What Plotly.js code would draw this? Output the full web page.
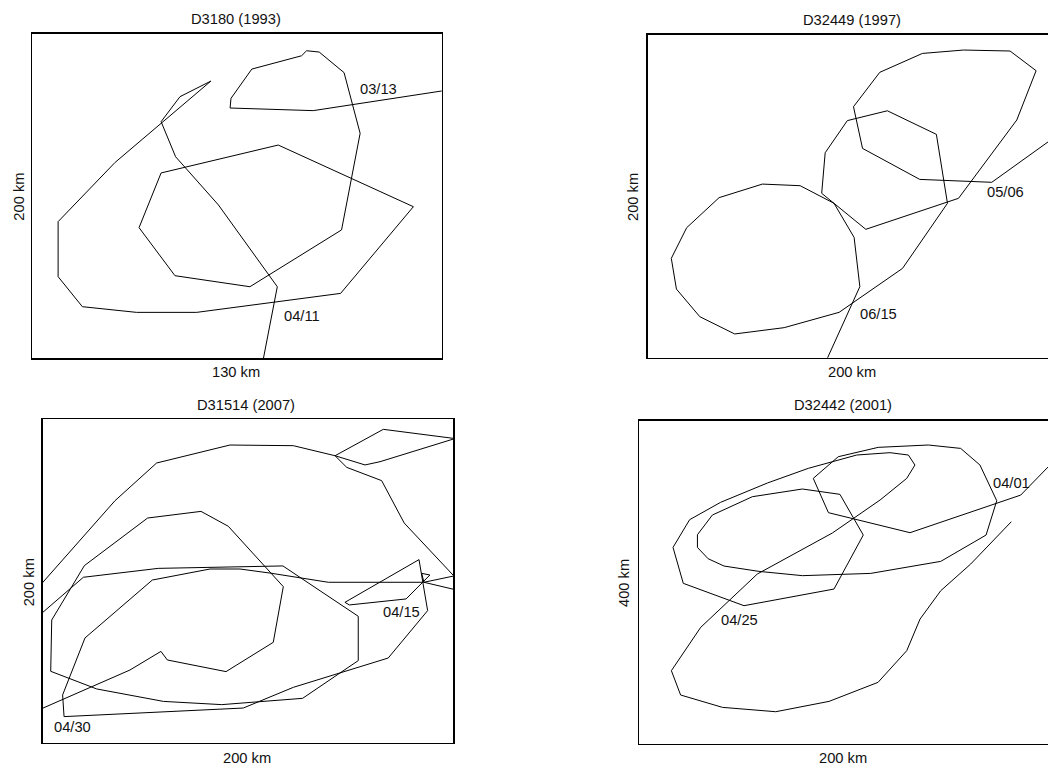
<!DOCTYPE html>
<html>
<head>
<meta charset="utf-8">
<script src="https://cdn.plot.ly/plotly-3.0.1.min.js"></script>
<style>html,body{margin:0;padding:0;background:#fff;overflow:hidden}#chart{width:1048px;height:767px}</style>
</head>
<body>
<div id="chart"></div>
<script>
// ---- data (km) ----
const titles = ["D3180 (1993)", "D32449 (1997)", "D31514 (2007)", "D32442 (2001)"];
const xLabels = ["130 km", "200 km", "200 km", "200 km"];
const yLabels = ["200 km", "200 km", "200 km", "400 km"];

const p1x = [133.7, 89.2, 62.8, 63.1, 69.7, 85.5, 87.1, 91.1, 99.0, 104.1, 98.2, 69.1, 45.3, 33.9, 40.9, 78.1, 121.0, 97.9, 52.2, 33.1, 15.9, 8.2, 8.2, 26.3, 56.7, 46.9, 40.9, 45.5, 59.1, 77.8, 73.4, 72.8];
const p1y = [165.8, 152.6, 154.2, 160.2, 178.2, 186.4, 189.5, 188.7, 176.0, 138.6, 79.1, 44.1, 50.9, 80.5, 114.2, 131.4, 93.4, 40.0, 28.3, 28.3, 31.8, 50.3, 84.2, 120.7, 170.8, 161.2, 145.8, 124.2, 94.5, 44.1, 0, -5.1];

const p2x = [203.0, 167.7, 132.6, 104.7, 100.3, 113.1, 133.9, 153.9, 176.6, 189.3, 179.9, 151.5, 106.3, 84.8, 86.5, 97.3, 116.8, 140.7, 146.1, 124.2, 93.3, 66.5, 42.4, 25.4, 14.0, 11.5, 19.0, 34.8, 55.9, 74.3, 90.8, 100.6, 103.4, 89.2, 86.8];
const p2y = [140.8, 108.6, 110.4, 129.6, 155.4, 176.7, 188.4, 190.5, 189.9, 177.7, 147.2, 98.7, 79.5, 101.8, 126.9, 146.8, 152.9, 138.3, 95.6, 55.3, 28.1, 18.6, 14.7, 25.4, 42.5, 61.5, 80.5, 99.1, 107.5, 106.5, 95.6, 74.5, 44.0, 3.7, -2.5];

const p3x = [-11.0, 42.5, 57.6, 60.7, 89.3, 112.3, 117.2, 90.4, 77.1, 51.1, 20.3, 4.4, 3.9, 26.3, 58.8, 87.2, 126.6, 153.7, 153.7, 117.0, 56.3, 19.8, -11.0, -11.0, 35.2, 55.5, 91.2, 122.1, 142.4, 165.9, 200.8, 164.3, 157.0, 142.4, 148.1, 165.1, 176.1, 200.3, 185.7, 139.1, 110.7, 96.1, 81.5, 53.4, 20.6, 9.7, 10.4, 97.7, 122.1, 168.3, 187.5, 183.3, 147.2, 149.4, 177.0, 188.6, 184.6, 185.7, 209.7];
const p3y = [15.4, 45.1, 56.6, 51.3, 44.1, 62.2, 96.6, 133.9, 143.1, 139.0, 109.6, 76.0, 44.3, 33.4, 25.7, 23.7, 27.6, 50.9, 78.3, 109.4, 107.9, 102.4, 68.6, 83.4, 149.7, 173.0, 184.1, 183.7, 177.5, 193.8, 188.1, 173.8, 171.8, 177.5, 170.3, 162.1, 135.9, 103.2, 99.3, 99.3, 105.0, 107.5, 107.5, 100.7, 64.9, 29.7, 16.3, 21.6, 34.4, 52.5, 81.8, 113.3, 86.9, 85.3, 89.0, 103.8, 104.8, 99.3, 92.1];

const p4x = [204.1, 186.2, 132.2, 92.4, 85.0, 97.2, 116.7, 141.1, 156.9, 166.3, 174.5, 169.3, 147.2, 113.0, 79.7, 58.5, 41.5, 33.7, 28.5, 28.5, 35.8, 55.3, 79.7, 98.0, 109.4, 95.1, 51.2, 21.6, 16.6, 24.7, 39.8, 62.6, 82.6, 94.0, 106.2, 122.4, 131.4, 134.6, 130.6, 117.6, 94.3, 57.7, 30.1, 15.8, 20.3, 40.7, 66.7, 92.7, 116.6, 130.6, 137.1, 147.2, 161.8, 181.6];
const p4y = [354.6, 307.9, 261.3, 286.1, 328.6, 355.4, 367.0, 369.9, 365.7, 345.1, 300.9, 258.4, 225.8, 210.9, 208.1, 213.4, 220.0, 229.1, 243.1, 258.8, 283.2, 305.9, 315.4, 308.8, 258.4, 191.5, 170.9, 198.6, 243.1, 277.4, 298.9, 322.8, 341.0, 349.2, 357.5, 360.4, 357.5, 345.1, 328.6, 301.8, 260.9, 210.1, 144.1, 90.4, 60.3, 45.0, 39.6, 52.4, 76.0, 115.2, 154.4, 189.5, 222.5, 274.9];

const d1Text = ["03/13", "04/11"], d1x = [109.9, 85.5], d1y = [165.7, 26.3];
const d2Text = ["05/06", "06/15"], d2x = [174.5, 112.3], d2y = [102.4, 27.0];
const d3Text = ["04/15", "04/30"], d3x = [174.8, 14.6], d3y = [80.7, 9.7];
const d4Text = ["04/01", "04/25"], d4x = [181.5, 48.8], d4y = [322.8, 153.1];

// ---- layout helpers (pixel -> paper) ----
const W = 1048, H = 767;
const px = v => v / W;
const py = v => 1 - v / H;
const FONT = {family: "Liberation Sans, Arial, sans-serif", size: 14.7, color: "#111"};

const panels = [
  {x: p1x, y: p1y, dt: d1Text, dx: d1x, dy: d1y, box: [32.3, 441.7, 33.7, 358.3], xr: [0, 130], yr: [0, 200], mirrorY: true,
   t: [235.7, 19], xl: [236, 371.7], yl: [19, 196.7]},
  {x: p2x, y: p2y, dt: d2Text, dx: d2x, dy: d2y, box: [647.7, 1048, 34.7, 357.7], xr: [0, 195.1], yr: [0, 200], mirrorY: false,
   t: [851.7, 20], xl: [851.7, 371.7], yl: [632.3, 196.7]},
  {x: p3x, y: p3y, dt: d3Text, dx: d3x, dy: d3y, box: [42.7, 453.3, 419.3, 743], xr: [0, 200], yr: [0, 200], mirrorY: true,
   t: [245.7, 405], xl: [246.7, 758], yl: [29, 582.3]},
  {x: p4x, y: p4y, dt: d4Text, dx: d4x, dy: d4y, box: [639, 1048, 420.7, 743.7], xr: [0, 199.5], yr: [0, 400], mirrorY: false,
   t: [842.7, 405], xl: [843, 758], yl: [624, 583]}
];

const data = [];
const layout = {
  width: W, height: H,
  margin: {l: 0, r: 0, t: 0, b: 0, pad: 0},
  paper_bgcolor: "#fff", plot_bgcolor: "#fff",
  showlegend: false, hovermode: false,
  font: FONT,
  annotations: []
};

panels.forEach((p, i) => {
  const n = i === 0 ? "" : String(i + 1);
  data.push({
    type: "scatter", mode: "lines", x: p.x, y: p.y,
    xaxis: "x" + n, yaxis: "y" + n,
    line: {color: "#000", width: 1},
    cliponaxis: true
  });
  const axCommon = {showgrid: false, zeroline: false, showticklabels: false, ticks: "",
    showline: true, linecolor: "#000", linewidth: 1.3, fixedrange: true};
  layout["xaxis" + n] = Object.assign({}, axCommon, {
    domain: [px(p.box[0]), px(p.box[1])], range: p.xr, anchor: "y" + n, mirror: true
  });
  layout["yaxis" + n] = Object.assign({}, axCommon, {
    domain: [py(p.box[3]), py(p.box[2])], range: p.yr, anchor: "x" + n, mirror: p.mirrorY
  });
  layout.annotations.push({text: titles[i], xref: "paper", yref: "paper", x: px(p.t[0]), y: py(p.t[1]),
    xanchor: "center", yanchor: "middle", showarrow: false, font: FONT});
  layout.annotations.push({text: xLabels[i], xref: "paper", yref: "paper", x: px(p.xl[0]), y: py(p.xl[1]),
    xanchor: "center", yanchor: "middle", showarrow: false, font: FONT});
  layout.annotations.push({text: yLabels[i], xref: "paper", yref: "paper", x: px(p.yl[0]), y: py(p.yl[1]),
    xanchor: "center", yanchor: "middle", showarrow: false, textangle: -90, font: FONT});
  p.dt.forEach((t, k) => {
    layout.annotations.push({text: t, xref: "x" + n, yref: "y" + n, x: p.dx[k], y: p.dy[k],
      xanchor: "center", yanchor: "middle", showarrow: false, font: FONT});
  });
});

Plotly.newPlot("chart", data, layout, {staticPlot: true, displayModeBar: false});
</script>
</body>
</html>
